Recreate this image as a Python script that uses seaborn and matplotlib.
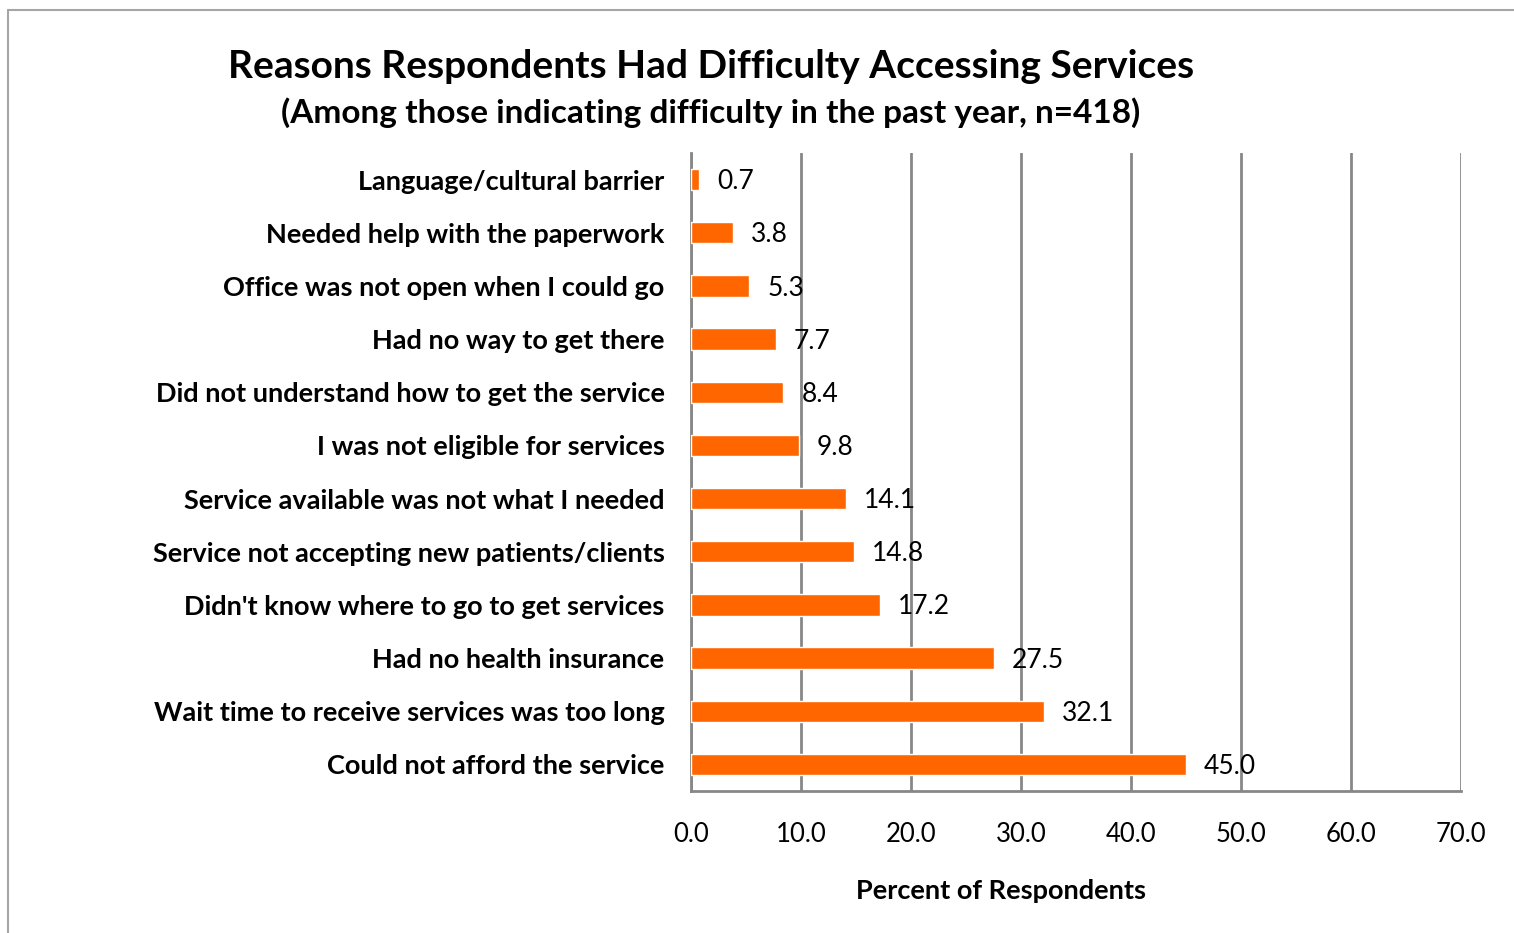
import matplotlib
matplotlib.use("Agg")
import matplotlib.pyplot as plt
import seaborn as sns
import pandas as pd
import numpy as np
from matplotlib.lines import Line2D

reasons = [
    "Language/cultural barrier",
    "Needed help with the paperwork",
    "Office was not open when I could go",
    "Had no way to get there",
    "Did not understand how to get the service",
    "I was not eligible for services",
    "Service available was not what I needed",
    "Service not accepting new patients/clients",
    "Didn't know where to go to get services",
    "Had no health insurance",
    "Wait time to receive services was too long",
    "Could not afford the service",
]
percents = [0.7, 3.8, 5.3, 7.7, 8.4, 9.8, 14.1, 14.8, 17.2, 27.5, 32.1, 45.0]
x_ticks = [0, 10, 20, 30, 40, 50, 60, 70]

title = "Reasons Respondents Had Difficulty Accessing Services"
subtitle = "(Among those indicating difficulty in the past year, n=418)"
x_label = "Percent of Respondents"

df = pd.DataFrame({"reason": reasons, "pct": percents})

sns.set_theme(style="white")
plt.rcParams["font.family"] = ["Lato", "DejaVu Sans"]
plt.rcParams["text.color"] = "black"
plt.rcParams["xtick.color"] = "black"
plt.rcParams["ytick.color"] = "black"

W, H = 1514, 933
fig = plt.figure(figsize=(W / 100, H / 100), dpi=100)
ax = fig.add_axes([691 / W, 1 - 791 / H, (1461 - 691) / W, (791 - 153) / H])

grid_col = "#878787"
orange = "#FF6600"

sns.barplot(data=df, x="pct", y="reason", orient="h", color=orange,
            saturation=1, width=0.4, ax=ax, zorder=3)

ax.set_xlim(0, 70)
ax.set_ylim(len(reasons) - 0.5, -0.5)
ax.set_xticks(x_ticks)
ax.set_xticklabels([f"{t:.1f}" for t in x_ticks], fontsize=18.5, color="black")
ax.xaxis.grid(True, color=grid_col, linewidth=2, zorder=0)
ax.set_axisbelow(True)

# Category ticks sit at the boundaries between bars
ax.set_yticks(np.arange(len(reasons)))
ax.set_yticklabels(reasons, fontsize=19.5, fontweight="bold", color="black")
ax.set_yticks(np.arange(len(reasons) + 1) - 0.5, minor=True)
ax.tick_params(axis="y", which="major", length=0, pad=19)
ax.tick_params(axis="y", which="minor", length=7, width=2, color=grid_col,
               direction="out")
ax.tick_params(axis="x", which="major", length=8, width=2, color=grid_col,
               direction="out", labelcolor="black", pad=14)

for side in ["top", "right"]:
    ax.spines[side].set_visible(False)
for side in ["left", "bottom"]:
    ax.spines[side].set_color(grid_col)
    ax.spines[side].set_linewidth(2)

ax.set_xlabel("")
ax.set_ylabel("")

for i, v in enumerate(percents):
    ax.annotate(f"{v:.1f}", xy=(v, i), xytext=(13, -1.5),
                textcoords="offset points", ha="left", va="center",
                fontsize=19, color="black", zorder=4)

fig.text(711 / W, 1 - 67 / H, title, ha="center", va="center",
         fontsize=28, fontweight="bold", color="black")
fig.text(711 / W, 1 - 113 / H, subtitle, ha="center", va="center",
         fontsize=24, fontweight="bold", color="black")
fig.text(1001 / W, 1 - 891 / H, x_label, ha="center", va="center",
         fontsize=19.5, fontweight="bold", color="black")

# Chart-area frame (top and left edges)
frame_col = "#A6A6A6"
fig.add_artist(Line2D([8 / W, 1.0], [1 - 10 / H, 1 - 10 / H],
                      transform=fig.transFigure, color=frame_col, linewidth=1.5))
fig.add_artist(Line2D([8 / W, 8 / W], [0.0, 1 - 10 / H],
                      transform=fig.transFigure, color=frame_col, linewidth=1.5))

fig.savefig("out.png", dpi=100, facecolor="white")
